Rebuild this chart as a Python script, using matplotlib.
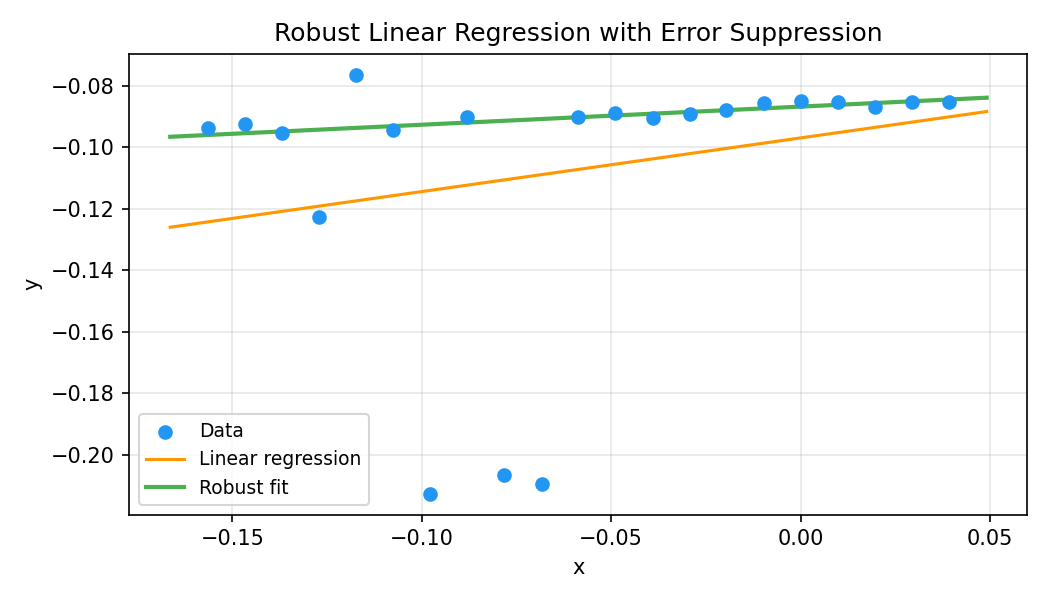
import numpy as np
import matplotlib
matplotlib.use("Agg")
import matplotlib.pyplot as plt

x_data = [-0.1564, -0.1466, -0.1369, -0.1271, -0.1173, -0.1075, -0.0978, -0.0880,
          -0.0782, -0.0684, -0.0587, -0.0489, -0.0391, -0.0293, -0.0196, -0.0098,
          0.0000, 0.0098, 0.0196, 0.0293, 0.0391]
y_data = [-0.0939, -0.0926, -0.0954, -0.1227, -0.0765, -0.0945, -0.2126, -0.0903,
          -0.2067, -0.2096, -0.0903, -0.0889, -0.0906, -0.0893, -0.0879, -0.0856,
          -0.0850, -0.0853, -0.0869, -0.0853, -0.0853]
line_x = [-0.1664, 0.0491]
linear_y = [-0.1260, -0.0884]
robust_y = [-0.0966, -0.0839]

fig, ax = plt.subplots(figsize=(7, 4), dpi=150)
ax.plot(line_x, linear_y, color="#FF9800", lw=1.5, label="Linear regression", zorder=2)
ax.plot(line_x, robust_y, color="#4CAF50", lw=2, label="Robust fit", zorder=2)
ax.scatter(x_data, y_data, color="#2196F3", s=36, label="Data", zorder=3)
ax.set_xlabel("x")
ax.set_ylabel("y")
ax.set_title("Robust Linear Regression with Error Suppression")
ax.grid(True, alpha=0.3)
h, l = ax.get_legend_handles_labels()
ax.legend([h[2], h[0], h[1]], [l[2], l[0], l[1]], loc="lower left", fontsize=9)
fig.tight_layout()
fig.savefig("out.png")
